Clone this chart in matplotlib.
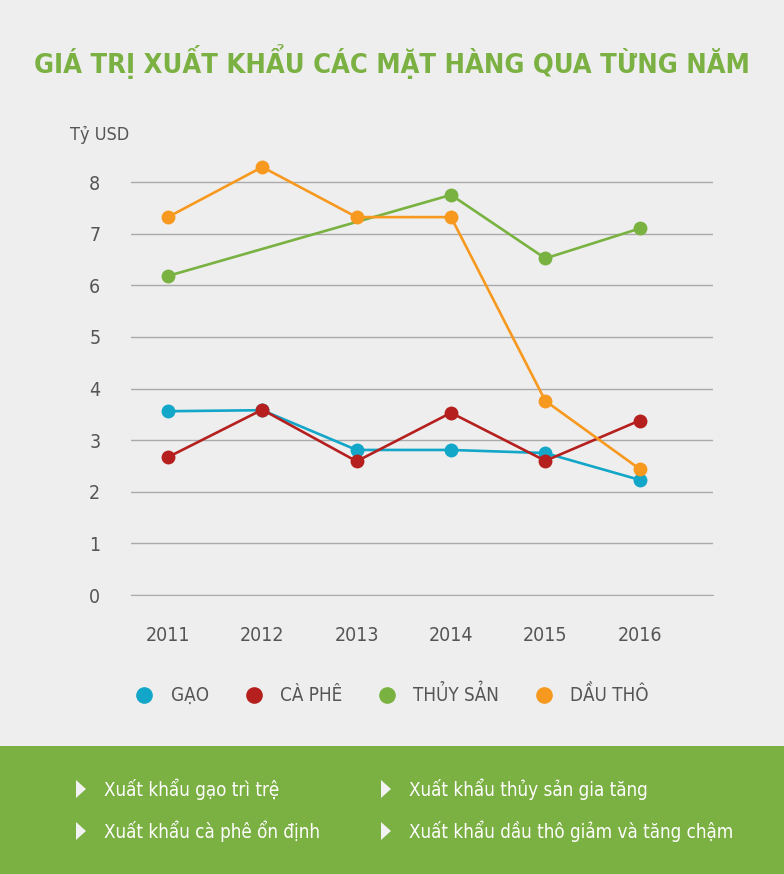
import numpy as np
import matplotlib
matplotlib.use("Agg")
import matplotlib.pyplot as plt
from matplotlib.lines import Line2D
from matplotlib.patches import Rectangle, Polygon

plt.rcParams["font.family"] = ["DejaVu Sans Condensed", "DejaVu Sans"]
plt.rcParams["font.stretch"] = "condensed"

years = [2011, 2012, 2013, 2014, 2015, 2016]
gao = [3.56, 3.58, 2.81, 2.81, 2.75, 2.23]
ca_phe = [2.67, 3.59, 2.59, 3.53, 2.60, 3.38]
thuy_san = [6.18, np.nan, np.nan, 7.75, 6.52, 7.10]
dau_tho = [7.32, 8.29, 7.32, 7.32, 3.76, 2.44]

series = [
    ("GẠO", gao, "#12A6C8"),
    ("CÀ PHÊ", ca_phe, "#B5201F"),
    ("THỦY SẢN", thuy_san, "#79B241"),
    ("DẦU THÔ", dau_tho, "#F7991F"),
]
notes_left = ["Xuất khẩu gạo trì trệ", "Xuất khẩu cà phê ổn định"]
notes_right = ["Xuất khẩu thủy sản gia tăng", "Xuất khẩu dầu thô giảm và tăng chậm"]

BG = "#EEEEEE"
GREEN = "#7BB042"
GREY_TXT = "#555555"
GRID = "#AAAAAA"

fig = plt.figure(figsize=(7.84, 8.74), dpi=100, facecolor=BG)
ax = fig.add_axes([0.167, 0.3192, 0.742, 0.508], facecolor=BG)

for name, vals, col in series:
    x = np.array(years, dtype=float)
    y = np.array(vals, dtype=float)
    ok = ~np.isnan(y)
    ax.plot(x[ok], y[ok], color=col, lw=1.9, marker="o", ms=10,
            markeredgewidth=0, zorder=3)

ax.set_xlim(2010.608, 2016.773)
ax.set_ylim(0, 8.6)
ax.set_yticks(range(0, 9))
ax.set_xticks(years)
ax.grid(axis="y", color=GRID, lw=1)
ax.set_axisbelow(True)
for s in ax.spines.values():
    s.set_visible(False)
ax.spines["bottom"].set_visible(True)
ax.spines["bottom"].set_color(GRID)
ax.tick_params(length=0, labelsize=14, labelcolor=GREY_TXT)
ax.tick_params(axis="y", pad=22)
ax.tick_params(axis="x", pad=22)

fig.text(0.5, 1 - 62 / 874, "GIÁ TRỊ XUẤT KHẨU CÁC MẶT HÀNG QUA TỪNG NĂM",
         ha="center", va="center", fontsize=19.5, fontweight="bold", color=GREEN)
fig.text(70 / 784, 1 - 135 / 874, "Tỷ USD", ha="left", va="center",
         fontsize=13, color=GREY_TXT)

handles = [Line2D([], [], ls="none", marker="o", ms=12, markeredgewidth=0,
                  color=col, label=name) for name, _, col in series]
leg = fig.legend(handles=handles, loc="center", bbox_to_anchor=(0.5, 1 - 695 / 874),
                 ncol=4, frameon=False, fontsize=13.5, handletextpad=0.9,
                 columnspacing=1.9, handlelength=1.0)
for t in leg.get_texts():
    t.set_color(GREY_TXT)

fig.add_artist(Rectangle((0, 0), 1, 128 / 874, transform=fig.transFigure,
                         facecolor=GREEN, edgecolor="none", zorder=0))

rows_y = [789, 831]
for col_x, notes in ((76, notes_left), (381, notes_right)):
    for ry, txt in zip(rows_y, notes):
        yc = 1 - ry / 874
        tri = Polygon([(col_x / 784, yc + 9 / 874), (col_x / 784, yc - 9 / 874),
                       ((col_x + 10) / 784, yc)], closed=True,
                      transform=fig.transFigure, facecolor="#F2F2F2",
                      edgecolor="none")
        fig.add_artist(tri)
        fig.text((col_x + 28) / 784, yc, txt, ha="left", va="center",
                 fontsize=13.5, color="white")

fig.savefig("out.png", dpi=100, facecolor=BG)
